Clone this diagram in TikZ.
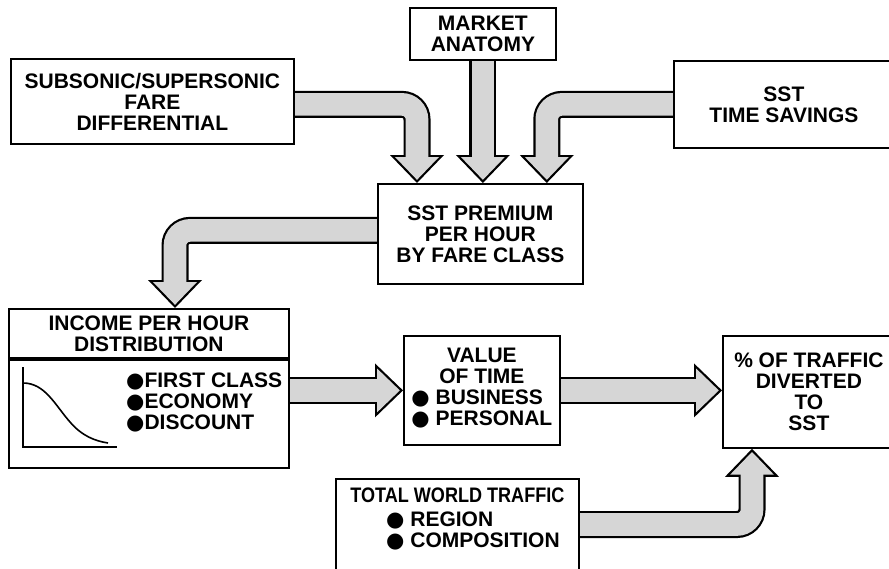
\documentclass[tikz,border=0pt]{standalone}
\usepackage{fontspec}
\setmainfont{Liberation Sans}
\newfontfamily\dotfont{DejaVu Sans}
\usetikzlibrary{calc,backgrounds,positioning}
\colorlet{stipple}{black!16}
\newcommand\boxfont{\bfseries\fontsize{21}{21}\selectfont}
\newcommand\bul{{\dotfont ●}}
% fat hollow arrow: #1 centre line, #2 tip, #3 direction of the tip
\newcommand\fatarrow[3]{%
  \draw[line width=27pt,rounded corners=15pt,shorten >=26pt] #1;
  \fill[shift={#2},rotate=#3] (0,0)--(-28,27)--(-28,-27)--cycle;
  \draw[stipple,line width=22.6pt,rounded corners=15pt,shorten >=24pt] #1;
  \fill[stipple,shift={#2},rotate=#3] (-3.2,0)--(-25.8,21.8)--(-25.8,-21.8)--cycle;}
\tikzset{box/.style={draw,line width=1.8pt,align=center,inner sep=0pt,anchor=north west,font=\boxfont},listtext/.style={align=left,inner sep=0pt,anchor=north west,font=\boxfont},axisline/.style={line width=1.6pt}}
\begin{document}
\begin{tikzpicture}[x=1pt,y=-1pt]
\useasboundingbox (0,0) rectangle (889,568);
\node[box,minimum width=283pt,minimum height=85pt] (sub) at (10,58) {SUBSONIC/SUPERSONIC\\FARE\\DIFFERENTIAL};
\node[box,minimum width=146pt,minimum height=52pt] (mkt) at (409,7) {MARKET\\ANATOMY};
\node[box,minimum width=220pt,minimum height=87pt] (sst) at (673,60) {SST\\TIME SAVINGS};
\node[box,minimum width=205pt,minimum height=100pt] (prem) at (377,183) {SST PREMIUM\\PER HOUR\\BY FARE CLASS};
\node[box,minimum width=280pt,minimum height=49pt] (inchead) at (8,308) {INCOME PER HOUR\\DISTRIBUTION};
\node[box,minimum width=280pt,minimum height=108pt] (incbody) at (inchead.south west) {};
\node[listtext] (inclist) at (126,373) {\bul FIRST CLASS\\\bul ECONOMY\\\bul DISCOUNT};
\node[box,minimum width=156pt,minimum height=109pt] (val) at (403,335) {VALUE\\OF TIME\\\begin{tabular}[t]{@{}l@{}}\bul\ BUSINESS\\\bul\ PERSONAL\end{tabular}};
\node[box,minimum width=172pt,minimum height=112pt] (pct) at (722,335) {\%\ OF TRAFFIC\\DIVERTED\\TO\\SST};
\node[box,minimum width=243pt,minimum height=110pt] (tot) at (335,478) {};
\node[font=\boxfont,inner sep=0pt,anchor=north] (totlabel) at ($(tot.north)+(0,10)$) {\scalebox{0.86}[1]{TOTAL WORLD TRAFFIC}};
\node[listtext] (totlist) at (386,512) {\bul\ REGION\\\bul\ COMPOSITION};
% small income curve
\draw[axisline] (23,367) |- (117,447);
\draw[axisline] (23,383) .. controls (45,383) and (55,405) .. (70,422) .. controls (82,436) and (95,441) .. (108,443);
\coordinate (t1) at ($(prem.north west)+(40,0)$);
\coordinate (t2) at (mkt.south |- prem.north);
\coordinate (t3) at ($(prem.north east)+(-37,0)$);
\coordinate (t4) at ($(inchead.north west)+(167,0)$);
\coordinate (t5) at (val.west);
\coordinate (t6) at (pct.west |- val.east);
\coordinate (t7) at ($(pct.south west)+(30,0)$);
\begin{scope}[on background layer]
\fatarrow{($(sub.east)+(0,3)$) -| (t1)}{(t1)}{-90}
\fatarrow{(mkt.south) -- (t2)}{(t2)}{-90}
\fatarrow{(sst.west) -| (t3)}{(t3)}{-90}
\fatarrow{($(prem.west)+(0,-3.5)$) -| (t4)}{(t4)}{-90}
\fatarrow{(incbody.east |- t5) -- (t5)}{(t5)}{0}
\fatarrow{(val.east) -- (t6)}{(t6)}{0}
\fatarrow{($(tot.north east)+(0,46.5)$) -| (t7)}{(t7)}{90}
\end{scope}
\end{tikzpicture}
\end{document}
